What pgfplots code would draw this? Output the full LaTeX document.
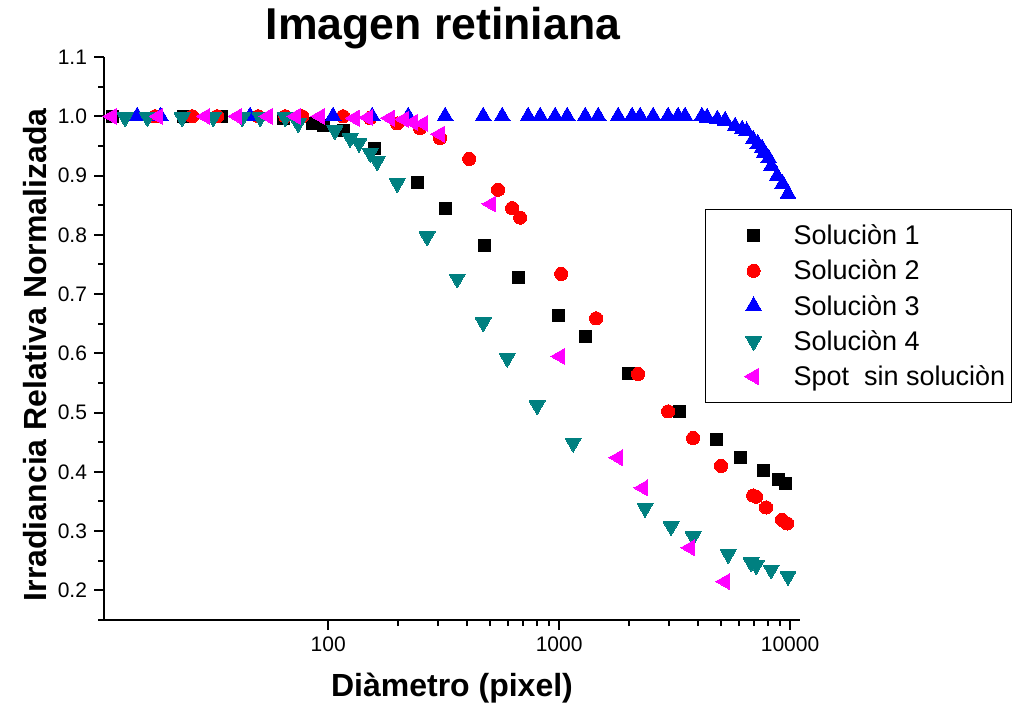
\documentclass[border=0pt]{standalone}
\usepackage{fontspec}
\setmainfont{Liberation Sans}
\usepackage{pgfplots}
\pgfplotsset{compat=1.18}
\definecolor{tealc}{HTML}{008080}
\definecolor{magc}{HTML}{FF00FF}

\begin{document}
\begin{tikzpicture}
\begin{axis}[
    at={(0,0)}, anchor=south west,
    scale only axis,
    width=348pt, height=281.5pt,
    xmode=log,
    xmin=10.7, xmax=11040,
    ymin=0.15, ymax=1.1,
    axis lines=left,
    axis line style={-, line width=1.2pt},
    tick align=outside,
    major tick length=5pt,
    minor tick length=3pt,
    tick style={line width=1pt, black},
    xtick={100,1000,10000},
    xticklabels={100,1000,10000},
    ytick={0.2,0.3,0.4,0.5,0.6,0.7,0.8,0.9,1.0,1.1},
    minor ytick={0.15,0.25,0.35,0.45,0.55,0.65,0.75,0.85,0.95,1.05},
    yticklabel style={/pgf/number format/fixed, /pgf/number format/fixed zerofill, /pgf/number format/precision=1},
    /pgf/number format/assume math mode=true,
    tick label style={font=\fontsize{10.5}{12}\selectfont},
    xlabel={Diàmetro (pixel)},
    ylabel={Irradiancia Relativa Normalizada},
    label style={font=\fontsize{16}{18}\selectfont\bfseries},
    xlabel style={at={(axis description cs:0.5,-0.121)}, anchor=center},
    ylabel style={at={(axis description cs:-0.099,0.471)}, anchor=center},
    title={Imagen retiniana},
    every axis title shift=0pt,
    title style={font=\fontsize{22.3}{26}\selectfont\bfseries, at={(axis description cs:0.487,1.0515)}, anchor=center},
    legend style={
        at={(0.8635,0.730)}, anchor=north west,
        draw=black, line width=0.6pt, fill=white,
        font=\fontsize{13.5}{16}\selectfont,
        inner xsep=3pt, inner ysep=7pt,
        row sep=5.6pt, column sep=11pt,
        nodes={inner sep=0pt, text height=10.5pt, text depth=1.5pt},
    },
    legend cell align=left,
    legend image code/.code={\path[draw=none] (0pt,0pt) -- (30pt,0pt);
        \draw[mark repeat=2,mark phase=2,#1,only marks] plot coordinates {(12pt,0pt) (21pt,0pt) (30pt,0pt)};},
]
% Solucion 1
\addplot[only marks, mark=square*, mark size=3pt, mark options={fill=black, draw=black, line width=0pt}] coordinates {
(11.6,1.0) (23.6,1.0) (34.5,1.0) (63.9,0.997) (85.3,0.988) (95.1,0.985)
(116,0.976) (159,0.946) (243,0.889) (321,0.845) (476,0.782) (665,0.728)
(990,0.664) (1297,0.629) (1990,0.566) (3305,0.501) (4780,0.455) (6080,0.425)
(7640,0.403) (8880,0.387) (9510,0.380)
};
\addlegendentry{Soluciòn 1}
% Solucion 2
\addplot[only marks, mark=*, mark size=3.3pt, mark options={fill=red, draw=red, line width=0pt}] coordinates {
(17.8,1.0) (25.8,1.0) (33.1,1.0) (49.8,1.0) (65.2,1.0) (77.1,1.0) (116,1.0)
(152,0.997) (199,0.988) (250,0.980) (305,0.963) (408,0.928) (544,0.876)
(626,0.845) (678,0.829) (1021,0.734) (1446,0.659) (2197,0.565) (2964,0.502)
(3802,0.457) (5025,0.410) (6918,0.360) (7129,0.358) (7870,0.340) (9230,0.319) (9705,0.313)
};
\addlegendentry{Soluciòn 2}
% Solucion 3
\addplot[only marks, mark=triangle*, mark size=4.6pt, mark options={fill=blue, draw=blue, line width=0pt}] coordinates {
(14.9,1.0) (18.8,1.0) (45.9,1.0) (105,1.0) (155,1.0) (222,1.0) (321,1.0)
(469,1.0) (567,1.0) (734,1.0) (828,1.0) (961,1.0) (1084,1.0) (1297,1.0)
(1476,1.0) (1801,1.0) (2070,1.0) (2243,1.0) (2553,1.0) (2964,1.0) (3275,1.0)
(3511,1.0) (4150,1.0) (4370,0.998) (4840,0.995) (5230,0.993) (5780,0.983)
(6200,0.978) (6490,0.975) (6920,0.961) (7260,0.953) (7560,0.946) (7720,0.938)
(8080,0.929) (8300,0.916) (8790,0.899) (9290,0.886) (9796,0.869)
};
\addlegendentry{Soluciòn 3}
% Solucion 4
\addplot[only marks, mark=triangle*, mark size=4.6pt, mark options={rotate=180, fill=tealc, draw=tealc, line width=0pt}] coordinates {
(13.2,0.998) (16.5,0.998) (23.3,0.998) (31.8,0.998) (42.5,0.998) (50.8,0.998)
(65.2,0.998) (74.1,0.988) (107,0.976) (124.5,0.963) (136,0.955) (152,0.938)
(163,0.924) (199,0.887) (268,0.797) (362,0.726) (469,0.652) (596,0.592)
(803,0.512) (1150,0.449) (2355,0.339) (3053,0.308) (3802,0.291) (5395,0.261)
(6776,0.247) (7128,0.242) (8276,0.235) (9796,0.224)
};
\addlegendentry{Soluciòn 4}
% Spot sin solucion
\addplot[only marks, mark=triangle*, mark size=4.6pt, mark options={rotate=90, fill=magc, draw=magc, line width=0pt}] coordinates {
(11.6,1.0) (18.4,1.0) (29.4,1.0) (40.4,1.0) (54.9,1.0) (72.6,1.0) (92.3,1.0)
(130,0.997) (149,0.998) (185,0.997) (213,0.995) (233,0.990) (258,0.988)
(305,0.970) (508,0.852) (1010,0.595) (1800,0.424) (2311,0.373) (3690,0.272) (5231,0.215)
};
\addlegendentry{Spot\ \ sin soluciòn}
\end{axis}
\pgfresetboundingbox
\useasboundingbox (-52pt,-45.5pt) rectangle (456pt,310pt);
\end{tikzpicture}
\end{document}
